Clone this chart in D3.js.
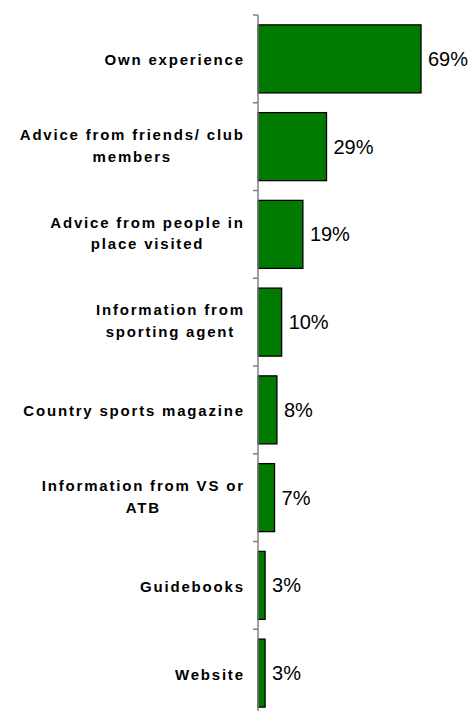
<!DOCTYPE html>
<html>
<head>
<meta charset="utf-8">
<script src="https://cdn.jsdelivr.net/npm/d3@7"></script>
<style>
  html, body { margin: 0; padding: 0; background: #fff; }
  svg { display: block; }
</style>
</head>
<body>
<svg id="chart" width="474" height="711"></svg>
<script>
// Sources of information used when choosing where to go (share of respondents)
const categories = [
  ["Own experience"],
  ["Advice from friends/ club", "members"],
  ["Advice from people in", "place visited"],
  ["Information from", "sporting agent"],
  ["Country sports magazine"],
  ["Information from VS or", "ATB"],
  ["Guidebooks"],
  ["Website"]
];
const values = [69, 29, 19, 10, 8, 7, 3, 3];
const valueLabels = ["69%", "29%", "19%", "10%", "8%", "7%", "3%", "3%"];

const svg = d3.select("#chart");
const axisX = 258;

const x = d3.scaleLinear().domain([0, 80]).range([axisX, axisX + 189]);
const y = d3.scaleBand()
  .domain(d3.range(categories.length))
  .range([15, 717])
  .paddingInner(0.225)
  .paddingOuter(0.1125);

// bars
svg.append("g").selectAll("rect")
  .data(values)
  .join("rect")
  .attr("x", x(0))
  .attr("y", (d, i) => y(i))
  .attr("width", d => x(d) - x(0))
  .attr("height", y.bandwidth())
  .attr("fill", "#007a00")
  .attr("stroke", "#000")
  .attr("stroke-width", 1.3);

// value labels
svg.append("g").selectAll("text")
  .data(values)
  .join("text")
  .attr("x", d => x(d) + 7)
  .attr("y", (d, i) => y(i) + y.bandwidth() / 2 + 7)
  .attr("font-family", "'Liberation Sans', Arial, sans-serif")
  .attr("font-size", 20)
  .attr("fill", "#000")
  .text((d, i) => valueLabels[i]);

// category axis: line with ticks at band boundaries
const axis = d3.axisLeft(y).tickSize(0).tickFormat("");
const gAxis = svg.append("g").attr("transform", `translate(${axisX},0)`).call(axis);
gAxis.select(".domain").remove();
gAxis.append("line")
  .attr("x1", 0).attr("x2", 0)
  .attr("y1", y.range()[0]).attr("y2", y.range()[1])
  .attr("stroke", "#808080").attr("stroke-width", 1.5);
const bounds = d3.range(categories.length + 1).map(i => y.range()[0] + i * y.step());
gAxis.selectAll("line.tk")
  .data(bounds)
  .join("line")
  .attr("class", "tk")
  .attr("x1", -5).attr("x2", 0)
  .attr("y1", d => d).attr("y2", d => d)
  .attr("stroke", "#808080").attr("stroke-width", 1.5);

// category labels: bold, letter-spaced, lines centred on each other, block right-aligned
const ls = 1.8, lh = 21.7, rightEdge = 243;
const gLab = svg.append("g")
  .attr("font-family", "'Liberation Sans', Arial, sans-serif")
  .attr("font-size", 15)
  .attr("font-weight", "bold")
  .attr("letter-spacing", ls)
  .attr("fill", "#000");

categories.forEach((lines, i) => {
  const cy = y(i) + y.bandwidth() / 2;
  const n = lines.length;
  const texts = lines.map((t, j) => gLab.append("text")
    .attr("y", cy + 6.5 - (n - 1) * (lh / 2 + 2.4) + j * lh)
    .text(t));
  const widths = texts.map(t => t.node().getComputedTextLength() - ls);
  const maxW = d3.max(widths);
  const cx = rightEdge - maxW / 2;
  texts.forEach((t, j) => t.attr("x", cx - widths[j] / 2));
});
</script>
</body>
</html>
